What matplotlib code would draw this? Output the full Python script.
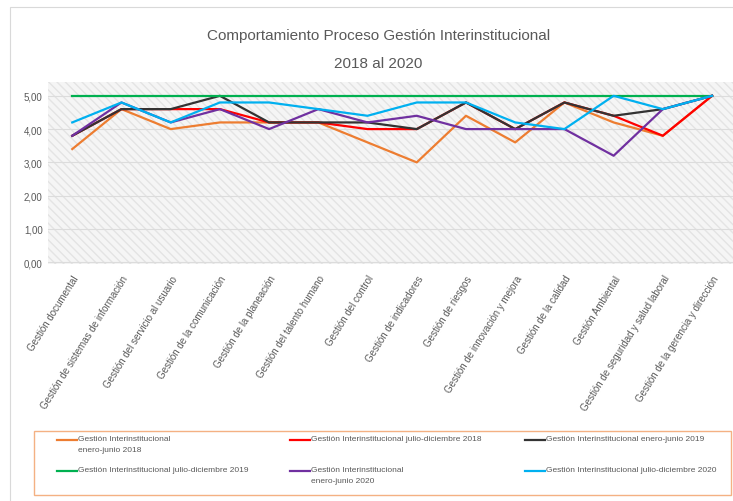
import matplotlib
matplotlib.use("Agg")
import matplotlib.pyplot as plt
from matplotlib.patches import Rectangle
from matplotlib.lines import Line2D
from matplotlib.ticker import FuncFormatter

plt.rcParams['font.family'] = ['Liberation Sans', 'DejaVu Sans']

procesos = ["Gestión documental", "Gestión de sistemas de información",
            "Gestión del servicio al usuario", "Gestión de la comunicación",
            "Gestión de la planeación", "Gestión del talento humano",
            "Gestión del control", "Gestión de indicadores", "Gestión de riesgos",
            "Gestión de innovación y mejora", "Gestión de la calidad",
            "Gestión Ambiental", "Gestión de seguridad y salud laboral",
            "Gestión de la gerencia y dirección"]

ene_jun_2018 = [3.4, 4.6, 4.0, 4.2, 4.2, 4.2, 3.6, 3.0, 4.4, 3.6, 4.8, 4.2, 3.8, 5.0]
jul_dic_2018 = [3.8, 4.6, 4.6, 4.6, 4.2, 4.2, 4.0, 4.0, 4.8, 4.0, 4.8, 4.4, 3.8, 5.0]
ene_jun_2019 = [3.8, 4.6, 4.6, 5.0, 4.2, 4.2, 4.2, 4.0, 4.8, 4.0, 4.8, 4.4, 4.6, 5.0]
jul_dic_2019 = [5.0, 5.0, 5.0, 5.0, 5.0, 5.0, 5.0, 5.0, 5.0, 5.0, 5.0, 5.0, 5.0, 5.0]
ene_jun_2020 = [3.8, 4.8, 4.2, 4.6, 4.0, 4.6, 4.2, 4.4, 4.0, 4.0, 4.0, 3.2, 4.6, 5.0]
jul_dic_2020 = [4.2, 4.8, 4.2, 4.8, 4.8, 4.6, 4.4, 4.8, 4.8, 4.2, 4.0, 5.0, 4.6, 5.0]

series = [
    ("Gestión Interinstitucional\nenero-junio 2018", ene_jun_2018, "#ED7D31"),
    ("Gestión Interinstitucional julio-diciembre 2018", jul_dic_2018, "#FF0000"),
    ("Gestión Interinstitucional enero-junio 2019", ene_jun_2019, "#333333"),
    ("Gestión Interinstitucional julio-diciembre 2019", jul_dic_2019, "#00B050"),
    ("Gestión Interinstitucional\nenero-junio 2020", ene_jun_2020, "#7030A0"),
    ("Gestión Interinstitucional julio-diciembre 2020", jul_dic_2020, "#00B0F0"),
]

W, H = 733, 502
fig = plt.figure(figsize=(W / 100, H / 100), dpi=100)
ax = fig.add_axes([0.065, 0.473, 0.94, 0.362])

# hatched plot area like the excel original
ax.add_patch(Rectangle((0, 0), 1, 1, transform=ax.transAxes, facecolor="#f5f5f5",
                       edgecolor="#e4e4e4", hatch="\\\\\\\\", lw=0, zorder=0))

x = list(range(len(procesos)))
for label, vals, col in series:
    ax.plot(x, vals, color=col, lw=1.6, zorder=3)

ax.set_xlim(-0.5, 13.5)
ax.set_ylim(-0.04, 5.42)
ax.set_yticks([0, 1, 2, 3, 4, 5])
ax.yaxis.set_major_formatter(FuncFormatter(lambda v, p: f"{v:.2f}".replace(".", ",")))
ax.grid(axis='y', color="#dcdcdc", lw=0.8, zorder=1)
ax.set_axisbelow(True)
for s in ax.spines.values():
    s.set_visible(False)
ax.tick_params(axis='both', length=0, colors="#595959", labelsize=7)
ax.set_xticks(x)
ax.set_xticklabels(procesos, rotation=58, ha='right', va='top', rotation_mode='anchor',
                   fontsize=7, color="#595959")
ax.tick_params(axis='x', pad=7)

fig.text(0.516, 0.928, "Comportamiento Proceso Gestión Interinstitucional", ha='center',
         va='center', fontsize=11, color="#595959")
fig.text(0.516, 0.872, "2018 al 2020", ha='center', va='center', fontsize=11,
         color="#595959")

# legend drawn by hand (row order, wrapped labels), positions in pixels
fig.add_artist(Rectangle((34 / W, 1 - 496 / H), (731 - 34) / W, 64 / H,
                         transform=fig.transFigure, fill=False,
                         edgecolor="#F4B183", lw=1.0))
col_x = [57, 290, 525]
row_y = [441, 472]
for i, (label, vals, col) in enumerate(series):
    lx = col_x[i % 3]
    ly = row_y[i // 3]
    fig.add_artist(Line2D([lx / W, (lx + 20) / W], [1 - ly / H, 1 - ly / H],
                          transform=fig.transFigure, color=col, lw=1.6))
    fig.text((lx + 21) / W, 1 - (ly - 5) / H, label, ha='left', va='top',
             fontsize=6, color="#595959", linespacing=1.9)

# thin outer frame of the chart
fig.add_artist(Rectangle((0.013, -0.01), 1.0, 0.995, transform=fig.transFigure,
                         fill=False, edgecolor="#d9d9d9", lw=0.8))

fig.savefig("out.png", dpi=100)
